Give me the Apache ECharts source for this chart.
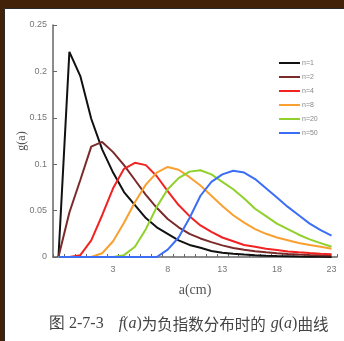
<!DOCTYPE html>
<html>
<head>
<meta charset="utf-8">
<script src="https://cdn.jsdelivr.net/npm/echarts@6/dist/echarts.min.js"></script>
<style>html,body{margin:0;padding:0;background:#fff}#c{width:344px;height:341px}</style>
</head>
<body>
<div id="c"></div>
<script>
var categories = ['-2','-1','0','1','2','3','4','5','6','7','8','9','10','11','12','13','14','15','16','17','18','19','20','21','22','23'];
var seriesNames = ['n=1','n=2','n=4','n=8','n=20','n=50'];
var n1 = [0,0.221,0.195,0.149,0.116,0.091,0.070,0.056,0.042,0.032,0.025,0.018,0.013,0.010,0.0065,0.0047,0.0036,0.0026,0.0018,0.0013,0.001,0.0008,0.0005,0.0003,0.0002,0.0001];
var n2 = [0,0.048,0.083,0.119,0.124,0.113,0.099,0.083,0.067,0.053,0.041,0.032,0.025,0.020,0.016,0.0125,0.0098,0.0078,0.0062,0.005,0.004,0.0033,0.0027,0.0022,0.0018,0.0015];
var n4 = [0,0,0.002,0.018,0.045,0.074,0.095,0.1015,0.099,0.087,0.071,0.056,0.044,0.034,0.027,0.021,0.017,0.013,0.011,0.009,0.0075,0.006,0.005,0.0042,0.0035,0.003];
var n8 = [0,0,0,0,0.004,0.017,0.037,0.059,0.078,0.091,0.097,0.094,0.086,0.077,0.066,0.055,0.045,0.037,0.030,0.025,0.021,0.018,0.015,0.013,0.011,0.009];
var n20 = [0,0,0,0,0,0,0.002,0.011,0.030,0.054,0.073,0.085,0.092,0.0935,0.089,0.081,0.073,0.063,0.052,0.044,0.036,0.030,0.024,0.019,0.015,0.011];
var n50 = [0,0,0,0,0,0,0,0,0,0,0.008,0.021,0.042,0.066,0.081,0.089,0.093,0.091,0.084,0.074,0.064,0.054,0.045,0.036,0.029,0.023];
var yTicks = [0,0.05,0.1,0.15,0.2,0.25];
var colors = ['#111111','#7b2a2a','#f22222','#f9a030','#8fd12a','#3c6ef5'];
var allData = [n1,n2,n4,n8,n20,n50];

var chart = echarts.init(document.getElementById('c'), null, {renderer:'canvas'});
var series = seriesNames.map(function(name, k){
  return {
    name: name, type: 'line', data: allData[k], symbol: 'none', smooth: false,
    lineStyle: {color: colors[k], width: 2}, itemStyle: {color: colors[k]}, z: 2 + k
  };
});
chart.setOption({
  backgroundColor: '#43220a',
  animation: false,
  graphic: [{
    type: 'rect', z: -10, silent: true,
    shape: {x: 4.5, y: 8.5, width: 345, height: 340},
    style: {fill: '#ffffff', stroke: '#2a2a2a', lineWidth: 1}
  }],
  title: {
    left: 44, top: 310,
    text: '{n|图 2-7-3}   {i|f}{n|(}{i|a}{n|)}{c|为负指数分布时的} {i|g}{n|(}{i|a}{n|)}{c|曲线}',
    textStyle: {
      fontWeight: 'normal',
      rich: {
        n: {fontFamily: 'Liberation Serif', fontSize: 16, color: '#444', fontWeight: 'normal'},
        i: {fontFamily: 'Liberation Serif', fontStyle: 'italic', fontSize: 16, color: '#444', fontWeight: 'normal'},
        c: {fontFamily: 'Noto Sans CJK SC', fontSize: 15.5, color: '#444', fontWeight: 'normal'}
      }
    }
  },
  legend: {
    orient: 'vertical', left: 274, top: 54,
    icon: 'rect', itemWidth: 21, itemHeight: 2, itemGap: 6,
    textStyle: {fontSize: 7, color: '#888', lineHeight: 8, padding: [0,0,0,-3]},
    data: seriesNames
  },
  grid: {left: 53, right: 7, top: 25, bottom: 84, containLabel: false},
  xAxis: {
    type: 'category', data: categories, boundaryGap: true,
    name: 'a(cm)', nameLocation: 'middle', nameGap: 26, nameMoveOverlap: false,
    nameTextStyle: {fontFamily: 'Liberation Serif', fontSize: 14, color: '#555'},
    axisLine: {lineStyle: {color: '#666', width: 1.5}},
    axisTick: {show: true, inside: true, length: 3, interval: 0, lineStyle: {color: '#666'}},
    axisLabel: {
      interval: function(index){ return index > 0 && index % 5 === 0; },
      fontSize: 9, color: '#777', margin: 8
    },
    splitLine: {show: false}
  },
  yAxis: {
    type: 'value', min: 0, max: 0.25, interval: 0.05,
    name: 'g(a)', nameLocation: 'middle', nameGap: 25, nameRotate: 90, nameMoveOverlap: false,
    nameTextStyle: {fontFamily: 'Liberation Serif', fontSize: 12, color: '#555'},
    axisLine: {show: true, lineStyle: {color: '#666', width: 1.5}},
    axisTick: {show: true, inside: true, length: 4, lineStyle: {color: '#666'}},
    axisLabel: {fontSize: 9, color: '#777', margin: 6,
      formatter: function(v){ for (var i=0;i<yTicks.length;i++){ if (Math.abs(v-yTicks[i])<1e-9) return String(yTicks[i]); } return ''; }},
    splitLine: {show: false}
  },
  series: series
});
</script>
</body>
</html>
